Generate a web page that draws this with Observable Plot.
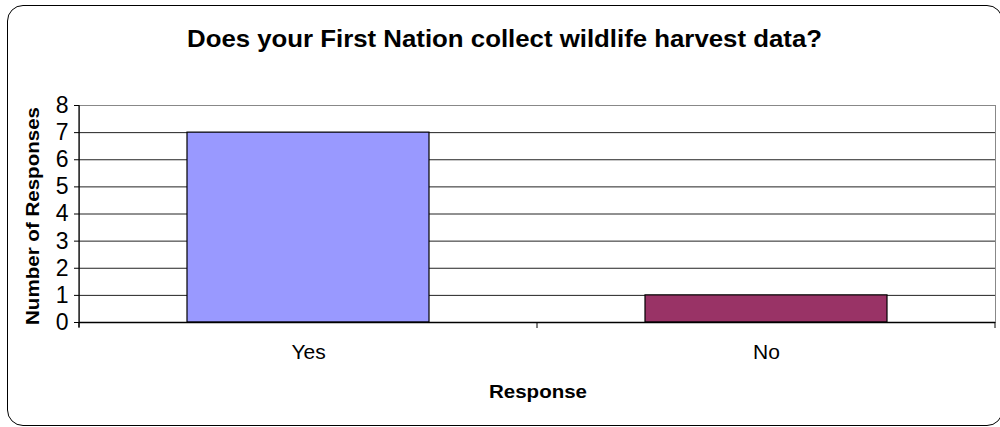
<!DOCTYPE html>
<html>
<head>
<meta charset="utf-8">
<script src="https://cdn.jsdelivr.net/npm/d3@7"></script>
<script src="https://cdn.jsdelivr.net/npm/@observablehq/plot@0.6"></script>
<style>
  html, body { margin: 0; padding: 0; background: #fff; }
  #wrap { position: relative; width: 1000px; height: 427px; overflow: hidden; font-family: "Liberation Sans", Arial, sans-serif; }
  #frame { position: absolute; left: 7px; top: 5px; width: 996px; height: 421px; border: 1.5px solid #000; border-radius: 16px; box-sizing: border-box; }
  #chart { position: absolute; left: 0; top: 0; }
</style>
</head>
<body>
<div id="wrap">
  <div id="frame"></div>
  <div id="chart"></div>
</div>
<script>
const categories = ["Yes", "No"];
const responses = [7, 1];
const barColors = ["#9999FF", "#993366"];
const yTicks = [0, 1, 2, 3, 4, 5, 6, 7, 8];
const titleText = "Does your First Nation collect wildlife harvest data?";
const xLabel = "Response";
const yLabel = "Number of Responses";

const data = categories.map((c, i) => ({category: c, value: responses[i], color: barColors[i]}));

const W = 1000, H = 427;
const mL = 79, mR = 5, mT = 105, mB = 105;
const FONT = "Liberation Sans, Arial, sans-serif";

const chart = Plot.plot({
  width: W,
  height: H,
  marginLeft: mL,
  marginRight: mR,
  marginTop: mT,
  marginBottom: mB,
  style: {fontFamily: FONT, fontSize: "21px", background: "transparent", overflow: "visible", color: "#000"},
  x: {domain: categories, paddingInner: 0.472, paddingOuter: 0.236},
  y: {domain: [0, 8]},
  marks: [
    Plot.frame({stroke: "#888", strokeWidth: 1}),
    Plot.ruleY(yTicks.filter(t => t > 0 && t < 8), {stroke: "#222", strokeWidth: 1}),
    Plot.barY(data, {x: "category", y: "value", fill: "color", stroke: "#000", strokeWidth: 1.2}),
    Plot.ruleY([0], {stroke: "#000", strokeWidth: 1.5}),
    Plot.axisY({ticks: yTicks, tickSize: 5, tickPadding: 6, fontSize: 23, label: null, stroke: "#000"}),
    Plot.axisX({tickSize: 0, tickPadding: 22, fontSize: 21, label: null})
  ]
});

const svg = d3.select(chart.tagName.toLowerCase() === "svg" ? chart : chart.querySelector("svg"));
svg.selectAll("g[aria-label='y-axis tick label'] text").style("font-size", "23px");
svg.selectAll("g[aria-label='x-axis tick label'] text").style("font-size", "21px");
const xs = chart.scale("x");
const ys = chart.scale("y");
const plotLeft = mL, plotBottom = ys.apply(0), plotTop = ys.apply(8);

svg.append("line").attr("x1", plotLeft).attr("x2", plotLeft).attr("y1", plotTop).attr("y2", plotBottom + 5)
  .attr("stroke", "#000").attr("stroke-width", 1.2);
[0, 1, 2].forEach(i => {
  const x = plotLeft + i * xs.step;
  svg.append("line").attr("x1", x).attr("x2", x).attr("y1", plotBottom).attr("y2", plotBottom + 6).attr("stroke", "#000");
});

function addText(txt, x, y, size, len, rotate) {
  const t = svg.append("text")
    .attr("transform", `translate(${x},${y})` + (rotate ? ` rotate(${rotate})` : ""))
    .attr("text-anchor", "middle").attr("font-family", FONT)
    .attr("font-size", size).attr("font-weight", "bold").attr("fill", "#000")
    .text(txt);
  if (len) t.attr("textLength", len).attr("lengthAdjust", "spacingAndGlyphs");
  return t;
}
addText(titleText, 504.5, 47, 24, 635, 0);
addText(xLabel, 538, 398, 18, 98, 0);
addText(yLabel, 39, 216, 19, 218, -90);

document.getElementById("chart").appendChild(chart);
</script>
</body>
</html>
